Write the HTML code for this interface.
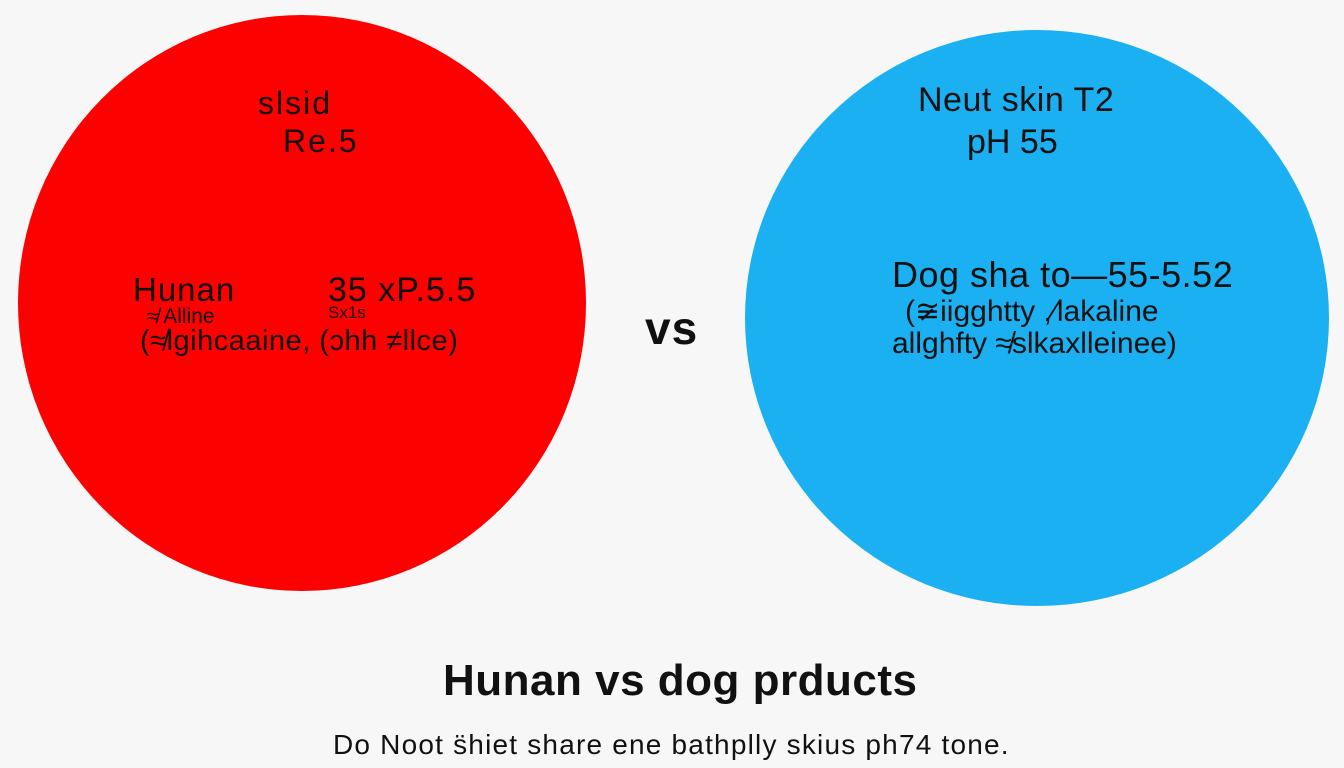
<!DOCTYPE html>
<html><head><meta charset="utf-8"><style>
body{margin:0;width:1344px;height:768px;background:#f7f7f7;overflow:hidden;position:relative;font-family:"Liberation Sans",sans-serif;color:#111}
.c{position:absolute;border-radius:50%}
.t{position:absolute;white-space:nowrap;line-height:1}
</style></head><body>
<div class="c" style="left:18px;top:15px;width:568px;height:576px;background:#fd0000"></div>
<div class="c" style="left:745px;top:30px;width:584px;height:576px;background:#1ab0f2"></div>
<div class="t" style="left:258px;top:87px;font-size:32px;letter-spacing:2px">slsid</div>
<div class="t" style="left:283px;top:125px;font-size:32px;letter-spacing:2px">Re.5</div>
<div class="t" style="left:133px;top:273px;font-size:33px;letter-spacing:1px">Hunan</div>
<div class="t" style="left:328px;top:273px;font-size:34px;letter-spacing:1px">35 xP.5.5</div>
<div class="t" style="left:147px;top:306px;font-size:21px">≉ Alline</div>
<div class="t" style="left:328px;top:304px;font-size:17px">Sx1s</div>
<div class="t" style="left:140px;top:327px;font-size:29px;letter-spacing:0.5px">(≉lgihcaaine, (ɔhh ≠llce)</div>
<div class="t" style="left:645px;top:305px;font-size:46px;font-weight:bold;letter-spacing:1px">vs</div>
<div class="t" style="left:918px;top:83px;font-size:34px;letter-spacing:0.5px">Neut skin T2</div>
<div class="t" style="left:967px;top:125px;font-size:34px">pH 55</div>
<div class="t" style="left:892px;top:257px;font-size:36px;letter-spacing:0.5px">Dog sha to—55-5.52</div>
<div class="t" style="left:905px;top:297px;font-size:30px">(≆iigghtty ,⁄lakaline</div>
<div class="t" style="left:892px;top:329px;font-size:30px">allghfty ≉slkaxlleinee)</div>
<div class="t" style="left:443px;top:659px;font-size:44px;font-weight:bold;letter-spacing:0.5px">Hunan vs dog prducts</div>
<div class="t" style="left:333px;top:731px;font-size:28px;letter-spacing:1.2px">Do Noot s̈hiet share ene bathplly skius ph74 tone.</div>
</body></html>
